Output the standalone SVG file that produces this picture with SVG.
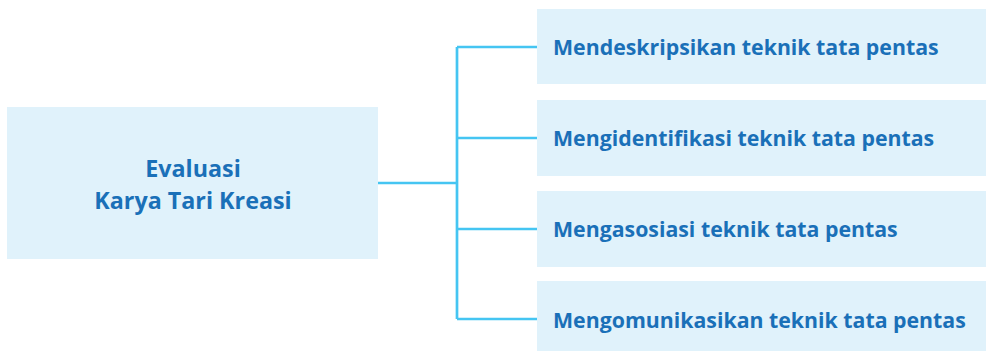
<svg xmlns="http://www.w3.org/2000/svg" width="986" height="351" viewBox="0 0 986 351">
<style>
.box{fill:#e0f2fb}
.t{font-family:"Open Sans","Noto Sans","Liberation Sans",sans-serif;font-weight:700;fill:#1a70b8}
.s{font-size:21.3px}
.m{font-size:23.3px}
.c{fill:none;stroke:#45c5f2;stroke-width:2.7}
</style>
<rect width="986" height="351" fill="#ffffff"/>
<g id="connectors">
<path class="c" d="M378 183H457M457 47V319M457 47H537M457 138H537M457 229H537M457 319H537"/>
</g>
<g id="root">
<rect class="box" x="7" y="107" width="371" height="152"/>
<text class="t m" x="193" y="177" text-anchor="middle">Evaluasi</text>
<text class="t m" x="193" y="209" text-anchor="middle">Karya Tari Kreasi</text>
</g>
<g id="n1">
<rect class="box" x="537" y="9" width="449" height="75"/>
<text class="t s" x="553" y="55">Mendeskripsikan teknik tata pentas</text>
</g>
<g id="n2">
<rect class="box" x="537" y="100" width="449" height="76"/>
<text class="t s" x="553" y="146">Mengidentifikasi teknik tata pentas</text>
</g>
<g id="n3">
<rect class="box" x="537" y="191" width="449" height="76"/>
<text class="t s" x="553" y="237">Mengasosiasi teknik tata pentas</text>
</g>
<g id="n4">
<rect class="box" x="537" y="281" width="449" height="70"/>
<text class="t s" x="553" y="328">Mengomunikasikan teknik tata pentas</text>
</g>
</svg>
